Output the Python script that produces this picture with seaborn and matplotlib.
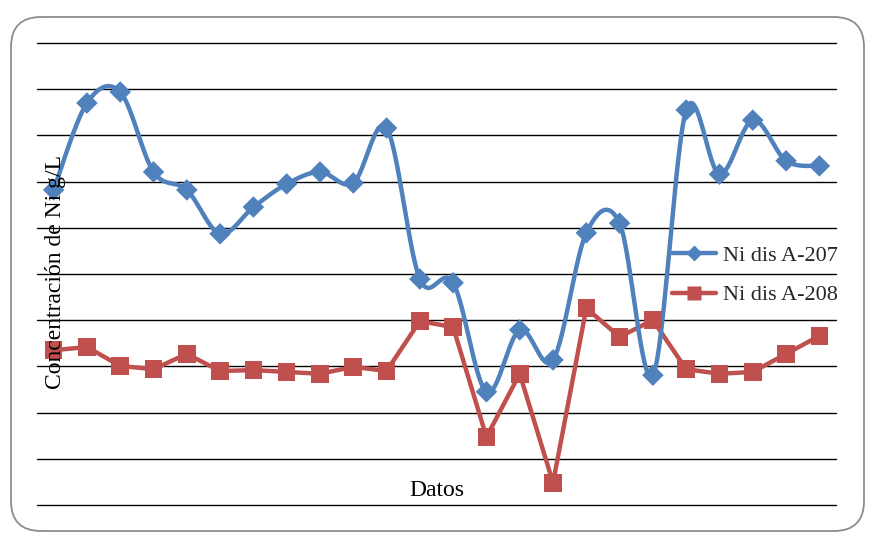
import numpy as np
import pandas as pd
import matplotlib
matplotlib.use("Agg")
import matplotlib.pyplot as plt
import seaborn as sns
from matplotlib.lines import Line2D
from matplotlib.patches import FancyBboxPatch

# ---- data ----
datos = list(range(1, 25))
ni_a207 = [6.82, 8.70, 8.94, 7.21, 6.82, 5.87, 6.45, 6.95, 7.21, 6.97, 8.16, 4.89,
           4.81, 2.45, 3.79, 3.14, 5.89, 6.10, 2.81, 8.55, 7.16, 8.33, 7.45, 7.34]
ni_a208 = [3.35, 3.42, 3.01, 2.94, 3.27, 2.90, 2.92, 2.88, 2.84, 2.99, 2.90, 3.98,
           3.85, 1.47, 2.84, 0.48, 4.26, 3.64, 4.00, 2.94, 2.84, 2.88, 3.27, 3.66]
series_names = ["Ni dis A-207", "Ni dis A-208"]
blue = "#4F81BD"
red = "#C0504D"

sns.set_theme(style="white")
plt.rcParams["font.family"] = ["Liberation Serif", "DejaVu Serif"]


def catmull_rom(x, y, n=30):
    """Excel-like smoothed line: cubic Bezier with control points P_i +/- (P_{i+1}-P_{i-1})/6."""
    x = np.asarray(x, float)
    y = np.asarray(y, float)
    xs, ys = [], []
    m = len(x)
    for i in range(m - 1):
        p0 = (x[max(i - 1, 0)], y[max(i - 1, 0)])
        p1 = (x[i], y[i])
        p2 = (x[i + 1], y[i + 1])
        p3 = (x[min(i + 2, m - 1)], y[min(i + 2, m - 1)])
        c1 = (p1[0] + (p2[0] - p0[0]) / 6, p1[1] + (p2[1] - p0[1]) / 6)
        c2 = (p2[0] - (p3[0] - p1[0]) / 6, p2[1] - (p3[1] - p1[1]) / 6)
        t = np.linspace(0, 1, n, endpoint=(i == m - 2))
        bx = (1 - t) ** 3 * p1[0] + 3 * (1 - t) ** 2 * t * c1[0] + 3 * (1 - t) * t ** 2 * c2[0] + t ** 3 * p2[0]
        by = (1 - t) ** 3 * p1[1] + 3 * (1 - t) ** 2 * t * c1[1] + 3 * (1 - t) * t ** 2 * c2[1] + t ** 3 * p2[1]
        xs.append(bx)
        ys.append(by)
    return np.concatenate(xs), np.concatenate(ys)


fig = plt.figure(figsize=(8.75, 5.41), dpi=100)
ax = fig.add_axes([37 / 875, 1 - 505 / 541, (836 - 37) / 875, (505 - 43) / 541])

# rounded chart border
border = FancyBboxPatch((0.11, 0.10), 8.53, 5.14,
                        boxstyle="round,pad=0,rounding_size=0.3",
                        transform=fig.dpi_scale_trans, fill=False,
                        edgecolor="#8c8c8c", linewidth=1.3)
fig.patches.append(border)

sx, sy = catmull_rom(datos, ni_a207)
smooth_df = pd.DataFrame({"x": sx, "y": sy})
raw_df = pd.DataFrame({"x": datos, "a207": ni_a207, "a208": ni_a208})

sns.lineplot(data=raw_df, x="x", y="a208", ax=ax, color=red, lw=3.2, zorder=3)
sns.scatterplot(data=raw_df, x="x", y="a208", ax=ax, color=red, marker="s",
                s=160, edgecolor="none", zorder=4)
sns.lineplot(data=smooth_df, x="x", y="y", ax=ax, color=blue, lw=3.2, zorder=3,
             sort=False, estimator=None)
sns.scatterplot(data=raw_df, x="x", y="a207", ax=ax, color=blue, marker="D",
                s=120, edgecolor="none", zorder=4)

ax.set_xlim(0.5, 24.5)
ax.set_ylim(0, 10)
ax.set_yticks(np.arange(0, 11, 1))
ax.set_xticks([])
ax.set_yticklabels([])
ax.tick_params(left=False, bottom=False)
ax.grid(axis="y", color="black", linewidth=1.0)
for gl in ax.get_ygridlines():
    gl.set_clip_on(False)
ax.set_axisbelow(True)
for sp in ax.spines.values():
    sp.set_visible(False)
ax.set_xlabel("")
ax.set_ylabel("")
ax.patch.set_alpha(0)

fig.text(55 / 875, 1 - 272 / 541, "Concentración de Ni g/L", rotation=90,
         ha="center", va="center", fontsize=17, color="black")
fig.text(437 / 875, 1 - 490 / 541, "Datos", ha="center", va="center",
         fontsize=17, color="black")

handles = [
    Line2D([], [], color=blue, lw=3.2, marker="D", markersize=8, markeredgecolor="none"),
    Line2D([], [], color=red, lw=3.2, marker="s", markersize=10, markeredgecolor="none"),
]
leg = ax.legend(handles, series_names, loc="center left",
                bbox_to_anchor=(672 / 875, 1 - 275.5 / 541),
                bbox_transform=fig.transFigure, frameon=False, fontsize=16,
                handlelength=2.0, handletextpad=0.3, labelspacing=0.85,
                borderpad=0, borderaxespad=0)
leg.set_zorder(5)

fig.savefig("out.png", dpi=100)
